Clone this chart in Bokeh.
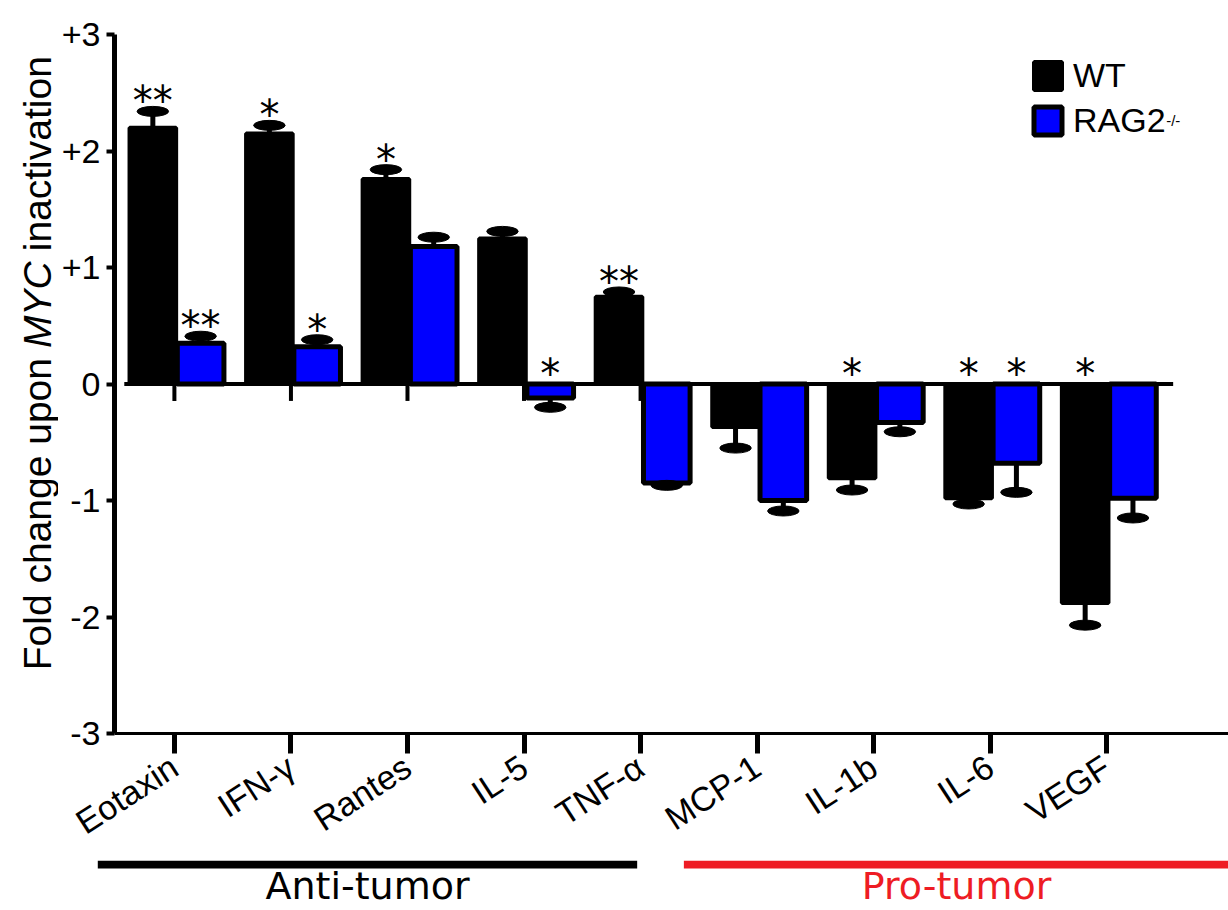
import math
import numpy as np
from bokeh.plotting import figure
from bokeh.layouts import row, column
from bokeh.models import (ColumnDataSource, Range1d, FixedTicker, Label, Legend, LegendItem)
from bokeh.embed import file_html
from bokeh.resources import INLINE
from bokeh.core.properties import value

# ---------------- data ----------------
categories = ["Eotaxin", "IFN-γ", "Rantes", "IL-5", "TNF-α", "MCP-1", "IL-1b", "IL-6", "VEGF"]
wt_values = [2.20, 2.15, 1.76, 1.25, 0.75, -0.37, -0.81, -0.98, -1.88]
wt_errors = [0.14, 0.07, 0.08, 0.06, 0.04, 0.18, 0.10, 0.05, 0.19]
rag2_values = [0.35, 0.32, 1.18, -0.12, -0.85, -1.00, -0.33, -0.68, -0.98]
rag2_errors = [0.06, 0.06, 0.08, 0.08, 0.02, 0.09, 0.08, 0.25, 0.17]
wt_signif = ["**", "*", "*", "", "**", "", "*", "*", "*"]
rag2_signif = ["**", "*", "", "*", "", "", "", "*", ""]
series_names = ["WT", "RAG2"]
series_superscript = ["", "-/-"]
y_ticks = [-3, -2, -1, 0, 1, 2, 3]
y_tick_labels = ["-3", "-2", "-1", "0", "+1", "+2", "+3"]
y_title_parts = ["Fold change upon", "MYC", "inactivation"]
group_names = ["Anti-tumor", "Pro-tumor"]
group_members = [["Eotaxin", "IFN-γ", "Rantes", "IL-5", "TNF-α"],
                 ["MCP-1", "IL-1b", "IL-6", "VEGF"]]

# ---------------- layout ----------------
PAGE_W, PAGE_H = 1228, 910
LEFT_W = 58                 # width of the strip holding the y title
MAIN_H = 860                # main plot height (rest is the group strip)
FRAME_L, FRAME_T, FRAME_B = 112, 34, 736   # frame edges in page pixels
X_MIN = -0.514
PX_PER_X = 116.75
X_MAX = X_MIN + (PAGE_W - FRAME_L) / PX_PER_X
Y_MIN, Y_MAX = -3, 3
UNIT_PX = (FRAME_B - FRAME_T) / (Y_MAX - Y_MIN)
FONT = "Liberation Sans"
BLUE = "#0000ff"
RED = "#ee1c24"


def px_x(page_x):
    return X_MIN + (page_x - FRAME_L) / PX_PER_X


def px_y(page_y):
    return Y_MAX - (page_y - FRAME_T) / UNIT_PX


idx = np.arange(len(categories))


def make_source(vals, errs, offset, signif):
    v = np.array(vals, dtype=float)
    e = np.array(errs, dtype=float)
    cap = v + np.sign(v) * e
    star_y = np.where(v > 0, cap + 10 / UNIT_PX, 10 / UNIT_PX)
    return ColumnDataSource(dict(x=idx + offset, top=v, cap=cap, star_y=star_y, star=signif))


src_wt = make_source(wt_values, wt_errors, -0.185, wt_signif)
src_rag = make_source(rag2_values, rag2_errors, 0.225, rag2_signif)

# ---------------- main plot ----------------
y_range = Range1d(Y_MIN, Y_MAX)
p = figure(width=PAGE_W - LEFT_W, height=MAIN_H,
           x_range=Range1d(X_MIN, X_MAX), y_range=y_range,
           output_backend="svg", toolbar_location=None,
           min_border_left=FRAME_L - LEFT_W, min_border_right=0,
           min_border_top=FRAME_T, min_border_bottom=MAIN_H - FRAME_B)
p.outline_line_color = None
p.xgrid.visible = False
p.ygrid.visible = False
p.background_fill_color = "white"
p.border_fill_color = "white"

# small ticks hanging from the zero line
p.segment(x0=idx, y0=np.zeros(len(idx)), x1=idx, y1=np.full(len(idx), -17 / UNIT_PX),
          line_color="black", line_width=4)

r_wt = p.vbar(x="x", top="top", bottom=0, width=0.40, source=src_wt,
              fill_color="black", line_color="black", line_width=4)
r_rag = p.vbar(x="x", top="top", bottom=0, width=0.40, source=src_rag,
               fill_color=BLUE, line_color="black", line_width=5)

for src in (src_wt, src_rag):
    p.segment(x0="x", y0="top", x1="x", y1="cap", source=src, line_color="black", line_width=5)
    p.ellipse(x="x", y="cap", width=0.27, height=10, height_units="screen", source=src,
              fill_color="black", line_color="black")
    p.text(x="x", y="star_y", text="star", source=src, text_font=value("DejaVu Sans"),
           text_font_size="40px", text_align="center", text_baseline="alphabetic",
           text_color="black")

# zero line
p.segment(x0=[idx[0] - 0.43], y0=[0], x1=[idx[-1] + 0.57], y1=[0],
          line_color="black", line_width=4)

# axes
xa = p.xaxis[0]
xa.ticker = FixedTicker(ticks=[int(i) for i in idx])
xa.major_label_overrides = {int(i): c for i, c in zip(idx, categories)}
xa.major_label_orientation = math.radians(33)
xa.major_label_text_font = FONT
xa.major_label_text_font_size = "34px"
xa.major_label_text_color = "black"
xa.major_label_standoff = 10
xa.axis_line_width = 3
xa.axis_line_color = "black"
xa.major_tick_line_width = 5
xa.major_tick_line_color = "black"
xa.major_tick_out = 20
xa.major_tick_in = 0
xa.minor_tick_line_color = None

ya = p.yaxis[0]
ya.ticker = FixedTicker(ticks=y_ticks)
ya.major_label_overrides = {t: s for t, s in zip(y_ticks, y_tick_labels)}
ya.major_label_text_font = FONT
ya.major_label_text_font_size = "34px"
ya.major_label_text_color = "black"
ya.major_label_standoff = 6
ya.axis_line_width = 5
ya.axis_line_color = "black"
ya.major_tick_line_width = 4
ya.major_tick_line_color = "black"
ya.major_tick_out = 8
ya.major_tick_in = 0
ya.minor_tick_line_color = None

# legend
LEG_FS = 34
legend = Legend(items=[LegendItem(label=series_names[0], renderers=[r_wt]),
                       LegendItem(label=series_names[1], renderers=[r_rag])],
                location=(1028 - FRAME_L, FRAME_B - 143), glyph_width=35, glyph_height=35,
                label_standoff=8, spacing=6, padding=0, margin=0, border_line_color=None,
                background_fill_alpha=0, label_text_font=FONT,
                label_text_font_size=f"{LEG_FS}px", label_text_color="black", label_height=35)
p.add_layout(legend)
sup_x = 1028 + 35 + 8 + 2.723 * LEG_FS + 2
p.add_layout(Label(x=px_x(sup_x), y=px_y(120), text=series_superscript[1], text_font=FONT,
                   text_font_size="15px", text_align="left", text_baseline="middle",
                   text_color="black"))

# ---------------- y title strip (MYC in italics) ----------------
# this strip shares the y range; its frame is aligned with the main frame by the row layout
pl = figure(width=LEFT_W, height=MAIN_H, x_range=Range1d(0, LEFT_W), y_range=y_range,
            x_axis_type=None, y_axis_type=None, output_backend="svg", toolbar_location=None,
            min_border_left=0, min_border_right=0, min_border_top=FRAME_T,
            min_border_bottom=MAIN_H - FRAME_B)
pl.outline_line_color = None
pl.background_fill_color = "white"
pl.border_fill_color = "white"
TITLE_FS = 39
em_w = [8.005, 2.222, 5.002]       # Arial/Liberation widths (em) of the three pieces
gap = 0.278                         # width of a space (em)
total = sum(em_w) + 2 * gap
start = 364 + total * TITLE_FS / 2  # page y where the title begins (bottom)
centers = [em_w[0] / 2,
           em_w[0] + gap + em_w[1] / 2,
           em_w[0] + gap + em_w[1] + gap + em_w[2] / 2]
styles = ["normal", "italic", "normal"]
for part, c, st in zip(y_title_parts, centers, styles):
    pl.add_layout(Label(x=37, y=px_y(start - c * TITLE_FS), text=part, angle=math.pi / 2,
                        text_align="center", text_baseline="middle", text_font=FONT,
                        text_font_size=f"{TITLE_FS}px", text_font_style=st, text_color="black"))

# ---------------- group strip ----------------
BOT_H = PAGE_H - MAIN_H
GROUP_FS = 38
pb = figure(width=PAGE_W, height=BOT_H, x_range=Range1d(px_x(0), px_x(PAGE_W)),
            y_range=Range1d(0, BOT_H), x_axis_type=None, y_axis_type=None,
            output_backend="svg", toolbar_location=None, min_border=0)
pb.outline_line_color = None
pb.background_fill_color = "white"
pb.border_fill_color = "white"
group_spans = [(-0.64, 3.98), (4.38, 9.05)]
group_colors = ["black", RED]
for name, (x0, x1), col in zip(group_names, group_spans, group_colors):
    pb.segment(x0=[x0], y0=[PAGE_H - 864], x1=[x1], y1=[PAGE_H - 864], line_color=col, line_width=8)
    pb.text(x=[(x0 + x1) / 2], y=[PAGE_H - 885], text=[name], text_align="center",
            text_baseline="alphabetic", text_font=value("DejaVu Sans"),
            text_font_size=f"{GROUP_FS}px", text_color=col)

layout = column(row(pl, p), pb)
open("out.html", "w").write(file_html(layout, INLINE))
